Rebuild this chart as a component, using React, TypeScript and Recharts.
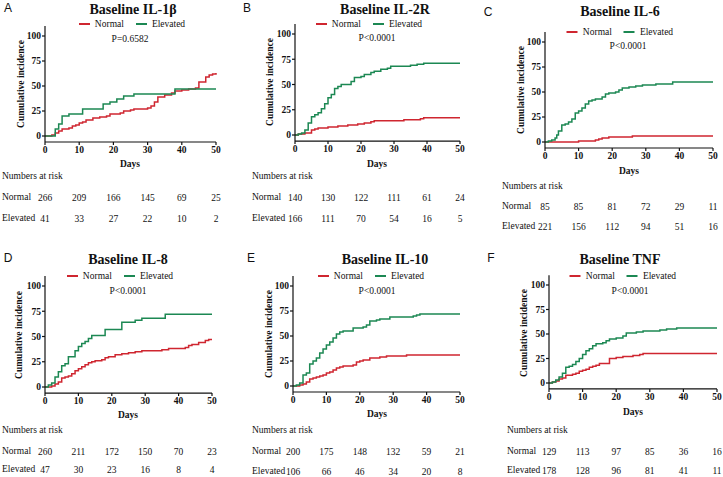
import { Legend, Line, LineChart, XAxis, YAxis } from 'recharts';
import type { ReactNode } from 'react';

const SERIF = '"Liberation Serif", "Times New Roman", serif';
const SANS = '"Liberation Sans", Arial, sans-serif';
const RED = '#cf2630';
const GREEN = '#1c8853';

const dayTicks = [0, 10, 20, 30, 40, 50];
const incidenceTicks = [0, 25, 50, 75, 100];

const letters = ['A', 'B', 'C', 'D', 'E', 'F'];
const titles = ['Baseline IL-1β', 'Baseline IL-2R', 'Baseline IL-6', 'Baseline IL-8', 'Baseline IL-10', 'Baseline TNF'];
const pValues = ['P=0.6582', 'P<0.0001', 'P<0.0001', 'P<0.0001', 'P<0.0001', 'P<0.0001'];
const groupOrder = ['Normal', 'Elevated'];

// [day, cumulative incidence %] step points
const il1bNormal = [
  [0, 0], [2, 1], [3, 3], [4, 5], [5, 7], [7, 8], [8, 10], [9, 11], [10, 13], [11, 14], [12, 16],
  [14, 18], [16, 19], [18, 20], [19, 22], [22, 23], [23, 25], [25, 26], [26, 27], [30, 28], [31, 30],
  [32, 34], [33, 39], [35, 41], [37, 43], [38, 45], [40, 46], [42, 47], [44, 48], [45, 54], [47, 59],
  [48, 61], [49, 62], [50, 63],
];
const il1bElevated = [
  [0, 0], [3, 7], [4, 12], [5, 20], [7, 22], [11, 27], [17, 32], [19, 34], [21, 37], [23, 40],
  [26, 42], [38, 47], [50, 47],
];
const il2rNormal = [
  [0, 0], [1, 1], [3, 2], [5, 5], [6, 6], [7, 7], [10, 8], [13, 9], [16, 10], [19, 11], [21, 12],
  [23, 13], [24, 14], [33, 15], [38, 16], [39, 17], [50, 17],
];
const il2rElevated = [
  [0, 0], [1, 1], [2, 2], [3, 5], [4, 12], [5, 18], [6, 20], [7, 22], [8, 26], [9, 31], [10, 37],
  [11, 40], [12, 46], [13, 48], [14, 50], [17, 53], [18, 57], [20, 58], [21, 60], [23, 62], [24, 63],
  [26, 65], [28, 66], [29, 68], [35, 69], [37, 70], [39, 71], [50, 71],
];
const il6Normal = [
  [0, 0], [10, 1], [15, 2], [16, 3], [17, 4], [19, 5], [26, 6], [50, 6],
];
const il6Elevated = [
  [0, 0], [1, 1], [2, 2], [3, 4], [3.5, 7], [4, 11], [5, 17], [6, 18], [7, 20], [8, 23], [9, 29],
  [10, 31], [11, 34], [12, 38], [13, 41], [14, 42], [15, 43], [17, 45], [18, 48], [19, 49], [21, 50],
  [22, 52], [23, 54], [25, 55], [27, 56], [29, 57], [33, 58], [38, 60], [50, 60],
];
const il8Normal = [
  [0, 0], [2, 1], [3, 3], [4, 5], [5, 9], [6, 10], [7, 11], [8, 13], [9, 16], [10, 18], [11, 20],
  [12, 22], [13, 24], [14, 25], [15, 26], [17, 27], [18, 29], [19, 30], [21, 32], [23, 33], [25, 34],
  [27, 35], [29, 36], [35, 37], [37, 38], [42, 39], [43, 41], [44, 42], [46, 44], [48, 46], [49, 47],
  [50, 47],
];
const il8Elevated = [
  [0, 0], [1, 2], [2, 4], [3, 10], [4, 15], [5, 21], [6, 23], [7, 30], [9, 36], [10, 40], [11, 43],
  [12, 45], [13, 48], [14, 51], [18, 57], [23, 64], [27, 66], [29, 68], [36, 72], [50, 72],
];
const il10Normal = [
  [0, 0], [2, 1], [3, 2], [4, 4], [5, 7], [6, 8], [7, 9], [8, 10], [9, 11], [10, 13], [11, 14],
  [12, 16], [13, 18], [14, 19], [15, 20], [18, 21], [19, 24], [20, 25], [21, 26], [23, 28], [26, 29],
  [28, 30], [34, 31], [50, 31],
];
const il10Elevated = [
  [0, 0], [1, 1], [2, 3], [3, 11], [4, 13], [5, 22], [6, 25], [7, 28], [8, 33], [9, 37], [10, 41],
  [11, 44], [12, 48], [13, 52], [14, 54], [15, 55], [18, 58], [21, 59], [22, 61], [23, 65], [25, 66],
  [26, 67], [29, 69], [36, 70], [37, 71], [38, 72], [50, 72],
];
const tnfNormal = [
  [0, 0], [1, 1], [2, 2], [3, 4], [4, 5], [5, 8], [7, 9], [8, 10], [9, 12], [10, 13], [11, 14],
  [12, 16], [13, 17], [14, 18], [15, 20], [18, 25], [20, 26], [22, 27], [25, 28], [27, 29], [28, 30],
  [50, 30],
];
const tnfElevated = [
  [0, 0], [1, 1], [2, 3], [3, 6], [4, 10], [5, 16], [6, 17], [7, 19], [8, 22], [9, 25], [10, 29],
  [11, 33], [12, 35], [13, 38], [14, 40], [16, 41], [17, 43], [18, 45], [20, 46], [22, 48], [23, 51],
  [26, 52], [28, 53], [33, 54], [35, 55], [38, 56], [50, 56],
];

const il1bRiskNormal = [266, 209, 166, 145, 69, 25];
const il1bRiskElevated = [41, 33, 27, 22, 10, 2];
const il2rRiskNormal = [140, 130, 122, 111, 61, 24];
const il2rRiskElevated = [166, 111, 70, 54, 16, 5];
const il6RiskNormal = [85, 85, 81, 72, 29, 11];
const il6RiskElevated = [221, 156, 112, 94, 51, 16];
const il8RiskNormal = [260, 211, 172, 150, 70, 23];
const il8RiskElevated = [47, 30, 23, 16, 8, 4];
const il10RiskNormal = [200, 175, 148, 132, 59, 21];
const il10RiskElevated = [106, 66, 46, 34, 20, 8];
const tnfRiskNormal = [129, 113, 97, 85, 36, 16];
const tnfRiskElevated = [178, 128, 96, 81, 41, 11];

const series = [
  [il1bNormal, il1bElevated, il1bRiskNormal, il1bRiskElevated],
  [il2rNormal, il2rElevated, il2rRiskNormal, il2rRiskElevated],
  [il6Normal, il6Elevated, il6RiskNormal, il6RiskElevated],
  [il8Normal, il8Elevated, il8RiskNormal, il8RiskElevated],
  [il10Normal, il10Elevated, il10RiskNormal, il10RiskElevated],
  [tnfNormal, tnfElevated, tnfRiskNormal, tnfRiskElevated],
];

// page geometry of each panel (pixels)
type Layout = {
  box: [number, number, number, number];
  x0: number; x50: number; y100: number; y0: number;
  letter: [number, number]; title: [number, number]; legend: [number, number];
  p: [number, number]; yLabel: [number, number]; days: [number, number];
  rowsLeft: number; nar: number; rowN: number; rowE: number;
};

const layouts: Layout[] = [
  { box: [0, 0, 240, 240], x0: 45, x50: 216, y100: 36, y0: 136, letter: [8, 8], title: [133, 10], legend: [132, 24], p: [130, 40], yLabel: [22, 84], days: [130, 165], rowsLeft: 2, nar: 177, rowN: 198, rowE: 219 },
  { box: [240, 0, 240, 240], x0: 295, x50: 460, y100: 34, y0: 135, letter: [247, 8], title: [385, 10], legend: [369, 24], p: [377, 39], yLabel: [271, 82], days: [377, 165], rowsLeft: 252, nar: 177, rowN: 198, rowE: 219 },
  { box: [480, 0, 243, 240], x0: 545, x50: 713, y100: 42, y0: 142, letter: [488, 12], title: [620, 12], legend: [620, 32], p: [628, 47], yLabel: [522, 90], days: [629, 172], rowsLeft: 502, nar: 187, rowN: 207, rowE: 227 },
  { box: [0, 240, 240, 237], x0: 45, x50: 212, y100: 286, y0: 387, letter: [8, 258], title: [128, 260], legend: [120, 276], p: [128, 292], yLabel: [20, 335], days: [128, 416], rowsLeft: 2, nar: 431, rowN: 452, rowE: 470 },
  { box: [240, 240, 240, 237], x0: 293, x50: 460, y100: 286, y0: 386, letter: [251, 258], title: [385, 260], legend: [371, 276], p: [377, 292], yLabel: [270, 334], days: [377, 415], rowsLeft: 252, nar: 431, rowN: 452, rowE: 472 },
  { box: [480, 240, 243, 237], x0: 549, x50: 717, y100: 285, y0: 383, letter: [491, 258], title: [620, 260], legend: [623, 276], p: [630, 292], yLabel: [525, 333], days: [633, 413], rowsLeft: 507, nar: 431, rowN: 452, rowE: 471 },
];

const Y_AXIS_W = 30;
const X_AXIS_H = 20;
const tickStyle = { fontFamily: SERIF, fontWeight: 700, fontSize: 9.5 };
const riskStyle = { fontFamily: SERIF, fontSize: 9.5 };

function Label({ x, y, children, left, style }: { x: number; y: number; children: ReactNode; left?: boolean; style?: React.CSSProperties }) {
  return (
    <div
      style={{
        position: 'absolute',
        left: x,
        top: y,
        transform: left ? 'translate(0, -50%)' : 'translate(-50%, -50%)',
        whiteSpace: 'nowrap',
        lineHeight: 1,
        fontFamily: SERIF,
        fontSize: 9.5,
        color: '#111',
        ...style,
      }}
    >
      {children}
    </div>
  );
}

function Panel({ index }: { index: number }) {
  const layout = layouts[index];
  const [normal, elevated, riskNormal, riskElevated] = series[index] as [number[][], number[][], number[], number[]];
  const [bx, by, bw, bh] = layout.box;
  const unit = (layout.y0 - layout.y100) / 100;
  const plotTop = layout.y100 - 10 * unit;
  const plotBottom = layout.y0 + 6 * unit;
  const margin = {
    left: layout.x0 - bx - Y_AXIS_W,
    right: bx + bw - layout.x50,
    top: plotTop - by,
    bottom: by + bh - plotBottom - X_AXIS_H,
  };
  const normalData = normal.map(([day, pct]) => ({ day, pct }));
  const elevatedData = elevated.map(([day, pct]) => ({ day, pct }));

  const renderTick = (props: any) => {
    const { x, y, payload } = props;
    const i = dayTicks.indexOf(payload.value);
    return (
      <g>
        <text x={x} y={y} dy="0.71em" textAnchor="middle" fill="#111" style={tickStyle}>
          {payload.value}
        </text>
        <text x={x} y={layout.rowN - by} dominantBaseline="central" textAnchor="middle" fill="#111" style={riskStyle}>
          {riskNormal[i]}
        </text>
        <text x={x} y={layout.rowE - by} dominantBaseline="central" textAnchor="middle" fill="#111" style={riskStyle}>
          {riskElevated[i]}
        </text>
      </g>
    );
  };

  const renderYTick = (props: any) => {
    const { x, y, payload } = props;
    return (
      <text x={x} y={y} dy="0.355em" textAnchor="end" fill="#111" style={tickStyle}>
        {payload.value}
      </text>
    );
  };

  const renderLegend = (props: any) => {
    const items = [...(props.payload ?? [])].sort(
      (a: any, b: any) => groupOrder.indexOf(a.value) - groupOrder.indexOf(b.value),
    );
    return (
      <div
        style={{
          display: 'flex',
          justifyContent: 'center',
          gap: 12,
          transform: `translateX(${layout.legend[0] - (bx + bw / 2)}px)`,
          fontFamily: SERIF,
          fontSize: 9.5,
          lineHeight: '12px',
          color: '#111',
        }}
      >
        {items.map((item: any) => (
          <span key={item.value} style={{ display: 'flex', alignItems: 'center', gap: 5 }}>
            <span style={{ display: 'inline-block', width: 11, height: 1.5, background: item.color }} />
            {item.value}
          </span>
        ))}
      </div>
    );
  };

  return (
    <>
      <div style={{ position: 'absolute', left: bx, top: by }}>
        <LineChart width={bw} height={bh} margin={margin} style={{ fontFamily: SERIF }}>
          <XAxis
            dataKey="day"
            type="number"
            domain={[0, 50]}
            ticks={dayTicks}
            height={X_AXIS_H}
            tickSize={3}
            tickMargin={1}
            axisLine={{ stroke: '#111', strokeWidth: 1.2 }}
            tickLine={{ stroke: '#111', strokeWidth: 1.2 }}
            tick={renderTick}
            interval={0}
          />
          <YAxis
            type="number"
            domain={[-6, 110]}
            ticks={incidenceTicks}
            width={Y_AXIS_W}
            tickSize={3}
            tickMargin={1}
            axisLine={{ stroke: '#111', strokeWidth: 1.2 }}
            tickLine={{ stroke: '#111', strokeWidth: 1.2 }}
            tick={renderYTick}
            interval={0}
          />
          <Legend
            layout="horizontal"
            verticalAlign="middle"
            align="center"
            wrapperStyle={{ top: layout.legend[1] - by - 6, left: 0, width: bw }}
            content={renderLegend}
          />
          <Line
            data={normalData}
            dataKey="pct"
            name="Normal"
            type="stepAfter"
            stroke={RED}
            strokeWidth={1.5}
            dot={false}
            isAnimationActive={false}
          />
          <Line
            data={elevatedData}
            dataKey="pct"
            name="Elevated"
            type="stepAfter"
            stroke={GREEN}
            strokeWidth={1.5}
            dot={false}
            isAnimationActive={false}
          />
        </LineChart>
      </div>
      <Label x={layout.letter[0]} y={layout.letter[1]} style={{ fontFamily: SANS, fontSize: 12 }}>
        {letters[index]}
      </Label>
      <Label x={layout.title[0]} y={layout.title[1]} style={{ fontSize: 14, fontWeight: 'bold' }}>
        {titles[index]}
      </Label>
      <Label x={layout.p[0]} y={layout.p[1]}>{pValues[index]}</Label>
      <Label
        x={layout.yLabel[0]}
        y={layout.yLabel[1]}
        style={{ fontWeight: 'bold', transform: 'translate(-50%, -50%) rotate(-90deg)' }}
      >
        Cumulative incidence
      </Label>
      <Label x={layout.days[0]} y={layout.days[1]} style={{ fontWeight: 'bold' }}>Days</Label>
      <Label x={layout.rowsLeft} y={layout.nar} left>Numbers at risk</Label>
      <Label x={layout.rowsLeft} y={layout.rowN} left>Normal</Label>
      <Label x={layout.rowsLeft} y={layout.rowE} left>Elevated</Label>
    </>
  );
}

export default function App() {
  return (
    <div style={{ position: 'absolute', left: 0, top: 0, width: 723, height: 477, background: '#fff', overflow: 'hidden', fontFamily: SERIF }}>
      {layouts.map((_, i) => (
        <Panel key={i} index={i} />
      ))}
    </div>
  );
}
